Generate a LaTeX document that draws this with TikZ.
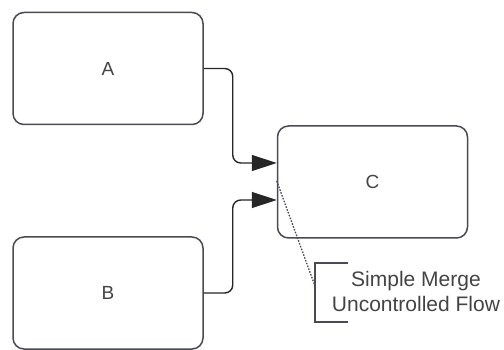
\documentclass[tikz,border=0pt]{standalone}
\usepackage{fontspec}
\setmainfont{Liberation Sans}
\usetikzlibrary{calc,arrows.meta}
\definecolor{boxline}{HTML}{4A4A55}
\definecolor{txt}{HTML}{444444}
\tikzset{
 taskbox/.style={draw=boxline, line width=1.5pt, rounded corners=11pt, minimum width=190pt, minimum height=112pt, text=txt, font=\fontsize{19}{21}\selectfont},
 flow/.style={draw=black!85, line width=1.4pt, rounded corners=8pt, -{Triangle[length=25pt,width=16pt]}},
 note/.style={draw=boxline, line width=1.3pt},
}
\newcommand{\task}[3]{%
 \node[taskbox] ({#1}) at ({#2}) {#3};%
}

\begin{document}
\begin{tikzpicture}[x=1pt,y=-1pt]
   \useasboundingbox (0,0) rectangle (504,350);
   \task{a}{108,68.5}{A};
   \task{b}{108,293}{B};
   \task{c}{372.5,182}{C};
   \coordinate (in1) at ($(c.west)+(0,-19)$);
   \coordinate (in2) at ($(c.west)+(0,18)$);
   \path[flow] (a.east) -- ++(29,0) |- (in1);
   \path[flow] (b.east) -- ++(29,0) |- (in2);
   % annotation
   \node (txt) [text=txt, align=center, font=\fontsize{21}{25}\selectfont] at (416,291) {Simple Merge\\Uncontrolled Flow};
   \coordinate (brk) at (315,286);
   \draw[note] (348,263) -- (315,263) -- (315,322) -- (348,322);
   \draw[boxline, line width=1.3pt, dash pattern=on 1.6pt off 1.4pt] ($(c.west)+(0,-1)$) -- (brk);
  \end{tikzpicture}
\end{document}
